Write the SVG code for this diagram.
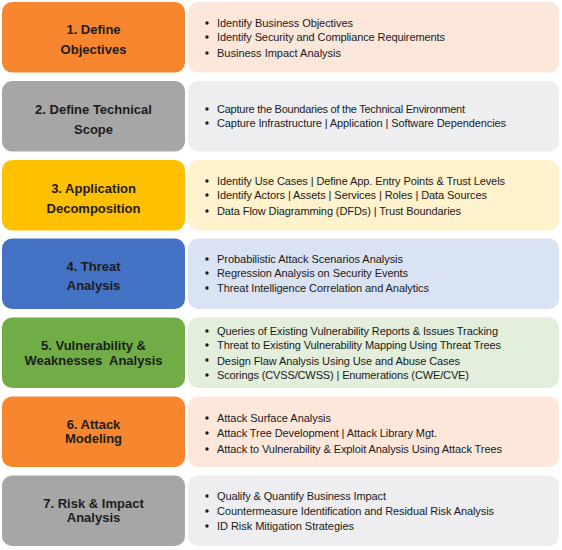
<svg xmlns="http://www.w3.org/2000/svg" width="562" height="550" viewBox="0 0 562 550">
<style>
.hd{font-family:"Liberation Sans",Arial,sans-serif;font-size:13px;font-weight:bold;fill:#1c1c1c;text-anchor:middle}
.it{font-family:"Liberation Sans",Arial,sans-serif;font-size:11px;fill:#1a1a1a}
.bl{fill:#1a1a1a}
.c1{fill:#F7862F}.l1{fill:#FDE7DA}
.c2{fill:#A6A6A6}.l2{fill:#EEEEF0}
.c3{fill:#FFC000}.l3{fill:#FFF2CC}
.c4{fill:#4472C4}.l4{fill:#DAE3F3}
.c5{fill:#70AD47}.l5{fill:#E3EEDB}
</style>
<rect width="562" height="550" fill="#ffffff"/>
<g id="step1">
<rect class="c1" x="2" y="2" width="183" height="70.5" rx="10"/>
<rect class="l1" x="188" y="2" width="371" height="70.5" rx="10"/>
<text class="hd" x="93.5" y="34">1. Define</text>
<text class="hd" x="93.5" y="54">Objectives</text>
<circle class="bl" cx="207" cy="23" r="1.7"/><text class="it" x="217" y="27" textLength="136">Identify Business Objectives</text>
<circle class="bl" cx="207" cy="37" r="1.7"/><text class="it" x="217" y="41" textLength="228">Identify Security and Compliance Requirements</text>
<circle class="bl" cx="207" cy="53" r="1.7"/><text class="it" x="217" y="57" textLength="124">Business Impact Analysis</text>
</g>
<g id="step2">
<rect class="c2" x="2" y="81" width="183" height="70.5" rx="10"/>
<rect class="l2" x="188" y="81" width="371" height="70.5" rx="10"/>
<text class="hd" x="93.5" y="114">2. Define Technical</text>
<text class="hd" x="93.5" y="133.5">Scope</text>
<circle class="bl" cx="207" cy="109" r="1.7"/><text class="it" x="217" y="113" textLength="248">Capture the Boundaries of the Technical Environment</text>
<circle class="bl" cx="207" cy="123" r="1.7"/><text class="it" x="217" y="127" textLength="289">Capture Infrastructure | Application | Software Dependencies</text>
</g>
<g id="step3">
<rect class="c3" x="2" y="160" width="183" height="70.5" rx="10"/>
<rect class="l3" x="188" y="160" width="371" height="70.5" rx="10"/>
<text class="hd" x="93.5" y="193">3. Application</text>
<text class="hd" x="93.5" y="212.5">Decomposition</text>
<circle class="bl" cx="207" cy="181" r="1.7"/><text class="it" x="217" y="185" textLength="288">Identify Use Cases | Define App. Entry Points &amp; Trust Levels</text>
<circle class="bl" cx="207" cy="195" r="1.7"/><text class="it" x="217" y="199" textLength="270">Identify Actors | Assets | Services | Roles | Data Sources</text>
<circle class="bl" cx="207" cy="211" r="1.7"/><text class="it" x="217" y="215" textLength="244">Data Flow Diagramming (DFDs) | Trust Boundaries</text>
</g>
<g id="step4">
<rect class="c4" x="2" y="238.5" width="183" height="70.5" rx="10"/>
<rect class="l4" x="188" y="238.5" width="371" height="70.5" rx="10"/>
<text class="hd" x="93.5" y="271">4. Threat</text>
<text class="hd" x="93.5" y="289.5">Analysis</text>
<circle class="bl" cx="207" cy="259" r="1.7"/><text class="it" x="217" y="263" textLength="186">Probabilistic Attack Scenarios Analysis</text>
<circle class="bl" cx="207" cy="273" r="1.7"/><text class="it" x="217" y="277" textLength="191">Regression Analysis on Security Events</text>
<circle class="bl" cx="207" cy="288" r="1.7"/><text class="it" x="217" y="292" textLength="212">Threat Intelligence Correlation and Analytics</text>
</g>
<g id="step5">
<rect class="c5" x="2" y="317.5" width="183" height="70.5" rx="10"/>
<rect class="l5" x="188" y="317.5" width="371" height="70.5" rx="10"/>
<text class="hd" x="93.5" y="350">5. Vulnerability &amp;</text>
<text class="hd" x="93.5" y="365" xml:space="preserve">Weaknesses  Analysis</text>
<circle class="bl" cx="207" cy="331" r="1.7"/><text class="it" x="217" y="335" textLength="281">Queries of Existing Vulnerability Reports &amp; Issues Tracking</text>
<circle class="bl" cx="207" cy="345" r="1.7"/><text class="it" x="217" y="349" textLength="284">Threat to Existing Vulnerability Mapping Using Threat Trees</text>
<circle class="bl" cx="207" cy="360" r="1.7"/><text class="it" x="217" y="364.5" textLength="243">Design Flaw Analysis Using Use and Abuse Cases</text>
<circle class="bl" cx="207" cy="375" r="1.7"/><text class="it" x="217" y="379" textLength="252">Scorings (CVSS/CWSS) | Enumerations (CWE/CVE)</text>
</g>
<g id="step6">
<rect class="c1" x="2" y="396.5" width="183" height="70.5" rx="10"/>
<rect class="l1" x="188" y="396.5" width="371" height="70.5" rx="10"/>
<text class="hd" x="93.5" y="429">6. Attack</text>
<text class="hd" x="93.5" y="443">Modeling</text>
<circle class="bl" cx="207" cy="418" r="1.7"/><text class="it" x="217" y="422" textLength="114">Attack Surface Analysis</text>
<circle class="bl" cx="207" cy="433" r="1.7"/><text class="it" x="217" y="437" textLength="220">Attack Tree Development | Attack Library Mgt.</text>
<circle class="bl" cx="207" cy="449" r="1.7"/><text class="it" x="217" y="453" textLength="285">Attack to Vulnerability &amp; Exploit Analysis Using Attack Trees</text>
</g>
<g id="step7">
<rect class="c2" x="2" y="475.5" width="183" height="70.5" rx="10"/>
<rect class="l2" x="188" y="475.5" width="371" height="70.5" rx="10"/>
<text class="hd" x="93.5" y="507.5">7. Risk &amp; Impact</text>
<text class="hd" x="93.5" y="522">Analysis</text>
<circle class="bl" cx="207" cy="496" r="1.7"/><text class="it" x="217" y="500" textLength="169">Qualify &amp; Quantify Business Impact</text>
<circle class="bl" cx="207" cy="511" r="1.7"/><text class="it" x="217" y="515" textLength="277">Countermeasure Identification and Residual Risk Analysis</text>
<circle class="bl" cx="207" cy="526" r="1.7"/><text class="it" x="217" y="530" textLength="137">ID Risk Mitigation Strategies</text>
</g>
<g id="connectors"/>
</svg>
